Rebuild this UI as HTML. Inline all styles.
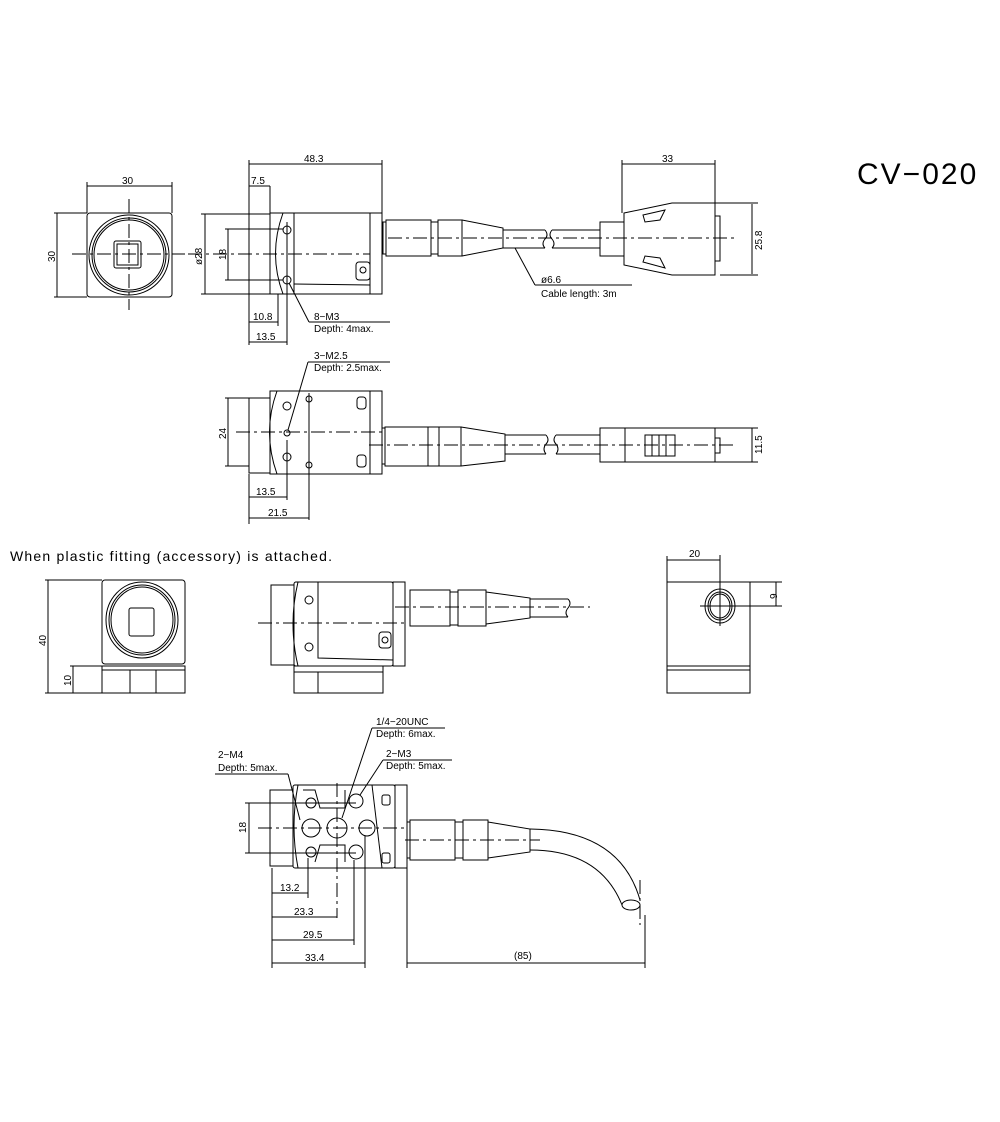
<!DOCTYPE html>
<html><head><meta charset="utf-8"><style>
html,body{margin:0;padding:0;background:#fff}
svg{display:block}
text{font-family:"Liberation Sans",sans-serif;font-size:10px;fill:#000}
</style></head><body>
<svg width="1000" height="1122" viewBox="0 0 1000 1122" xmlns="http://www.w3.org/2000/svg" fill="none" stroke="#000" stroke-width="1">
<defs><style>.c{stroke-dasharray:14 4 3 4}.t{stroke:none;fill:#000}</style></defs>

<text class="t" x="857" y="184" style="font-size:30px;letter-spacing:2px">CV−020</text>

<!-- ===== View 1 front ===== -->
<rect x="87" y="213" width="85" height="84" rx="3"/>
<circle cx="129" cy="255" r="40"/><circle cx="129" cy="255" r="37"/><circle cx="129" cy="255" r="35"/>
<rect x="114" y="241" width="27" height="27" rx="2"/><rect x="117" y="244" width="21" height="21"/>
<line x1="129" y1="199" x2="129" y2="310" class="c"/><line x1="72" y1="254" x2="185" y2="254" class="c"/>
<line x1="87" y1="186" x2="172" y2="186"/><line x1="87" y1="182" x2="87" y2="213"/><line x1="172" y1="182" x2="172" y2="213"/>
<text class="t" x="122" y="184">30</text>
<line x1="57" y1="213" x2="57" y2="297"/><line x1="54" y1="213" x2="87" y2="213"/><line x1="54" y1="297" x2="87" y2="297"/>
<text class="t" transform="translate(55,262) rotate(-90)">30</text>

<!-- ===== View 1 side ===== -->
<rect x="249" y="214" width="21" height="80"/>
<rect x="270" y="213" width="100" height="81"/>
<rect x="370" y="213" width="12" height="81"/>
<path d="M283 213 Q268 254 283 294"/>
<line x1="294" y1="213" x2="294" y2="294"/>
<path d="M294 284 L370 285"/>
<rect x="356" y="262" width="14" height="18" rx="3"/><circle cx="363" cy="270" r="3"/>
<circle cx="287" cy="230" r="4"/><circle cx="287" cy="280" r="4"/>
<line x1="287" y1="222" x2="287" y2="300"/>
<line x1="188" y1="254" x2="370" y2="254" class="c"/>
<!-- connector -->
<rect x="383" y="222" width="3" height="32"/>
<rect x="386" y="220" width="45" height="36"/><rect x="431" y="222" width="7" height="32"/>
<rect x="438" y="220" width="24" height="36"/>
<path d="M462 220 L503 228 L503 248 L462 256"/>
<line x1="503" y1="230" x2="545" y2="230"/><line x1="503" y1="248" x2="545" y2="248"/>
<path d="M545 230 q4 5 0 9 q-4 5 0 9"/><path d="M552 230 q-4 5 0 9 q4 5 0 9"/>
<line x1="552" y1="230" x2="600" y2="230"/><line x1="552" y1="248" x2="600" y2="248"/>
<rect x="600" y="222" width="24" height="34"/>
<path d="M624 213 L672 203 L715 203 L715 275 L672 275 L624 265 Z"/>
<path d="M643 215 L665 210 L660 220 L645 222 Z"/><path d="M643 262 L665 268 L660 258 L645 256 Z"/>
<rect x="715" y="216" width="5" height="45"/>
<line x1="388" y1="238" x2="735" y2="238" class="c"/>
<line x1="515" y1="248" x2="535" y2="285"/><line x1="535" y1="285" x2="632" y2="285"/>
<text class="t" x="541" y="283">ø6.6</text><text class="t" x="541" y="297">Cable length: 3m</text>
<!-- dims -->
<line x1="249" y1="164" x2="382" y2="164"/><line x1="249" y1="160" x2="249" y2="345"/><line x1="382" y1="160" x2="382" y2="213"/>
<text class="t" x="304" y="162">48.3</text>
<line x1="249" y1="186" x2="270" y2="186"/><line x1="270" y1="186" x2="270" y2="214"/>
<text class="t" x="251" y="184">7.5</text>
<line x1="622" y1="164" x2="715" y2="164"/><line x1="622" y1="160" x2="622" y2="213"/><line x1="715" y1="160" x2="715" y2="203"/>
<text class="t" x="662" y="162">33</text>
<line x1="752" y1="204" x2="752" y2="274"/><line x1="715" y1="203" x2="758" y2="203"/><line x1="720" y1="275" x2="758" y2="275"/>
<text class="t" transform="translate(762,250) rotate(-90)">25.8</text>
<line x1="205" y1="214" x2="205" y2="294"/><line x1="201" y1="214" x2="249" y2="214"/><line x1="201" y1="294" x2="249" y2="294"/>
<text class="t" transform="translate(202,265) rotate(-90)">ø28</text>
<line x1="228" y1="229" x2="228" y2="280"/><line x1="225" y1="229" x2="283" y2="229"/><line x1="225" y1="280" x2="283" y2="280"/>
<text class="t" transform="translate(226,260) rotate(-90)">18</text>
<line x1="278" y1="294" x2="278" y2="326"/>
<line x1="249" y1="322" x2="278" y2="322"/><text class="t" x="253" y="320">10.8</text>
<line x1="287" y1="284" x2="287" y2="345"/>
<line x1="249" y1="342" x2="287" y2="342"/><text class="t" x="256" y="340">13.5</text>
<line x1="289" y1="283" x2="309" y2="322"/><line x1="309" y1="322" x2="390" y2="322"/>
<text class="t" x="314" y="320">8−M3</text><text class="t" x="314" y="332">Depth: 4max.</text>

<!-- ===== View 2 top ===== -->
<rect x="249" y="398" width="21" height="75"/>
<rect x="270" y="391" width="100" height="83"/><rect x="370" y="391" width="12" height="83"/>
<path d="M277 391 Q262 432 277 474"/>
<circle cx="287" cy="406" r="4"/><circle cx="287" cy="433" r="3"/><circle cx="287" cy="457" r="4"/>
<circle cx="309" cy="399" r="3"/><circle cx="309" cy="465" r="3"/>
<line x1="309" y1="393" x2="309" y2="520"/><line x1="287" y1="440" x2="287" y2="500"/>
<rect x="357" y="397" width="9" height="12" rx="3"/><rect x="357" y="455" width="9" height="12" rx="3"/>
<line x1="236" y1="432" x2="382" y2="432" class="c"/>
<line x1="225" y1="398" x2="249" y2="398"/><line x1="225" y1="466" x2="249" y2="466"/>
<line x1="228" y1="398" x2="228" y2="466"/><text class="t" transform="translate(226,439) rotate(-90)">24</text>
<rect x="382" y="428" width="3" height="36"/>
<rect x="385" y="427" width="43" height="39"/><rect x="428" y="427" width="11" height="39"/><rect x="439" y="427" width="22" height="39"/>
<path d="M461 427 L505 434 L505 461 L461 466"/>
<line x1="505" y1="435" x2="546" y2="435"/><line x1="505" y1="454" x2="546" y2="454"/>
<path d="M546 435 q4 5 0 9 q-4 5 0 10"/><path d="M556 435 q-4 5 0 9 q4 5 0 10"/>
<line x1="556" y1="435" x2="600" y2="435"/><line x1="556" y1="454" x2="600" y2="454"/>
<rect x="600" y="428" width="115" height="34"/><line x1="625" y1="428" x2="625" y2="462"/>
<rect x="645" y="435" width="30" height="21"/><line x1="652" y1="435" x2="652" y2="456"/><line x1="659" y1="435" x2="659" y2="456"/><line x1="666" y1="435" x2="666" y2="456"/>
<rect x="715" y="438" width="5" height="15"/>
<line x1="369" y1="445" x2="735" y2="445" class="c"/>
<line x1="752" y1="428" x2="752" y2="462"/><line x1="715" y1="428" x2="758" y2="428"/><line x1="715" y1="462" x2="758" y2="462"/>
<text class="t" transform="translate(762,454) rotate(-90)">11.5</text>
<line x1="249" y1="474" x2="249" y2="524"/>
<line x1="249" y1="497" x2="287" y2="497"/><text class="t" x="256" y="495">13.5</text>
<line x1="249" y1="518" x2="309" y2="518"/><text class="t" x="268" y="516">21.5</text>
<line x1="288" y1="430" x2="308" y2="362"/><line x1="308" y1="362" x2="390" y2="362"/>
<text class="t" x="314" y="359">3−M2.5</text><text class="t" x="314" y="371">Depth: 2.5max.</text>

<text class="t" x="10" y="561" style="font-size:14px;letter-spacing:1.2px">When plastic fitting (accessory) is attached.</text>

<!-- ===== Row 3 ===== -->
<rect x="102" y="580" width="83" height="84" rx="3"/>
<rect x="102" y="666" width="83" height="27"/><line x1="102" y1="670" x2="185" y2="670"/>
<line x1="130" y1="670" x2="130" y2="693"/><line x1="156" y1="670" x2="156" y2="693"/>
<ellipse cx="142" cy="620" rx="36" ry="38"/><ellipse cx="142" cy="620" rx="33" ry="35"/><ellipse cx="142" cy="620" rx="31" ry="33"/>
<rect x="129" y="608" width="25" height="28" rx="2"/>
<line x1="48" y1="580" x2="48" y2="693"/><line x1="45" y1="580" x2="102" y2="580"/><line x1="45" y1="693" x2="102" y2="693"/>
<text class="t" transform="translate(46,646) rotate(-90)">40</text>
<line x1="73" y1="666" x2="73" y2="693"/><line x1="70" y1="666" x2="102" y2="666"/>
<text class="t" transform="translate(71,686) rotate(-90)">10</text>

<rect x="271" y="585" width="23" height="80"/>
<rect x="294" y="582" width="99" height="84" rx="2"/><rect x="393" y="582" width="12" height="84"/>
<path d="M298 582 Q288 624 298 666"/>
<circle cx="309" cy="600" r="4"/><circle cx="309" cy="647" r="4"/>
<path d="M318 582 L318 658 L393 660"/>
<rect x="379" y="632" width="12" height="16" rx="3"/><circle cx="385" cy="640" r="3"/>
<rect x="294" y="666" width="89" height="27"/><line x1="294" y1="672" x2="383" y2="672"/><line x1="318" y1="672" x2="318" y2="693"/>
<line x1="258" y1="623" x2="405" y2="623" class="c"/>
<rect x="410" y="590" width="40" height="36"/><rect x="450" y="592" width="8" height="33"/><rect x="458" y="590" width="28" height="36"/>
<path d="M486 592 L530 598 L530 618 L486 624"/>
<line x1="530" y1="599" x2="568" y2="599"/><line x1="530" y1="617" x2="568" y2="617"/><path d="M568 599 q4 4 0 9 q-4 5 0 9"/>
<line x1="395" y1="607" x2="590" y2="607" class="c"/>

<rect x="667" y="582" width="83" height="84"/><rect x="667" y="666" width="83" height="27"/><line x1="667" y1="670" x2="750" y2="670"/>
<ellipse cx="720" cy="606" rx="15" ry="17"/><ellipse cx="720" cy="606" rx="12" ry="14"/><ellipse cx="720" cy="606" rx="10" ry="12"/>
<line x1="720" y1="555" x2="720" y2="626"/><line x1="700" y1="606" x2="782" y2="606"/>
<line x1="667" y1="560" x2="720" y2="560"/><line x1="667" y1="556" x2="667" y2="582"/>
<text class="t" x="689" y="557">20</text>
<line x1="776" y1="582" x2="776" y2="606"/><line x1="750" y1="582" x2="782" y2="582"/>
<text class="t" transform="translate(777,599) rotate(-90)">9</text>

<!-- ===== Row 4 bottom view ===== -->
<rect x="270" y="790" width="23" height="76"/>
<rect x="293" y="785" width="102" height="83" rx="2"/><rect x="395" y="785" width="12" height="83"/>
<path d="M298 785 Q290 826 298 868"/>
<path d="M303 790 L315 790 L320 808 L345 808 L345 790"/>
<path d="M345 862 L345 845 L320 845 L315 862"/>
<line x1="372" y1="785" x2="382" y2="868"/>
<circle cx="311" cy="803" r="5"/><circle cx="311" cy="828" r="9"/><circle cx="311" cy="852" r="5"/>
<circle cx="337" cy="828" r="10"/><circle cx="356" cy="801" r="7"/><circle cx="367" cy="828" r="8"/><circle cx="356" cy="852" r="7"/>
<rect x="382" y="795" width="8" height="10" rx="2"/><rect x="382" y="853" width="8" height="10" rx="2"/>
<line x1="258" y1="828" x2="405" y2="828" class="c"/>
<line x1="337" y1="783" x2="337" y2="918" class="c"/>
<line x1="245" y1="803" x2="356" y2="803"/><line x1="245" y1="853" x2="356" y2="853"/>
<line x1="249" y1="803" x2="249" y2="853"/><text class="t" transform="translate(246,833) rotate(-90)">18</text>
<rect x="407" y="822" width="3" height="36"/>
<rect x="410" y="820" width="45" height="40"/><rect x="455" y="822" width="8" height="36"/><rect x="463" y="820" width="25" height="40"/>
<path d="M488 822 L530 829 L530 852 L488 858"/>
<path d="M530 829 Q620 830 640 900"/><path d="M530 850 Q600 850 622 905"/>
<ellipse cx="631" cy="905" rx="9" ry="5"/>
<line x1="405" y1="840" x2="540" y2="840" class="c"/><line x1="640" y1="880" x2="640" y2="925" class="c"/>
<line x1="272" y1="868" x2="272" y2="968"/>
<line x1="308" y1="858" x2="308" y2="898"/><line x1="272" y1="893" x2="308" y2="893"/><text class="t" x="280" y="891">13.2</text>
<line x1="272" y1="917" x2="337" y2="917"/><text class="t" x="294" y="915">23.3</text>
<line x1="354" y1="860" x2="354" y2="945"/><line x1="272" y1="940" x2="354" y2="940"/><text class="t" x="303" y="938">29.5</text>
<line x1="365" y1="836" x2="365" y2="968"/><line x1="272" y1="963" x2="365" y2="963"/><text class="t" x="305" y="961">33.4</text>
<line x1="407" y1="868" x2="407" y2="968"/><line x1="645" y1="915" x2="645" y2="968"/>
<line x1="407" y1="963" x2="645" y2="963"/><text class="t" x="514" y="959">(85)</text>
<line x1="300" y1="820" x2="288" y2="774"/><line x1="288" y1="774" x2="215" y2="774"/>
<text class="t" x="218" y="758">2−M4</text><text class="t" x="218" y="771">Depth: 5max.</text>
<line x1="342" y1="818" x2="372" y2="728"/><line x1="372" y1="728" x2="445" y2="728"/>
<text class="t" x="376" y="725">1/4−20UNC</text><text class="t" x="376" y="737">Depth: 6max.</text>
<line x1="360" y1="795" x2="383" y2="760"/><line x1="383" y1="760" x2="452" y2="760"/>
<text class="t" x="386" y="757">2−M3</text><text class="t" x="386" y="769">Depth: 5max.</text>
</svg>
</body></html>
